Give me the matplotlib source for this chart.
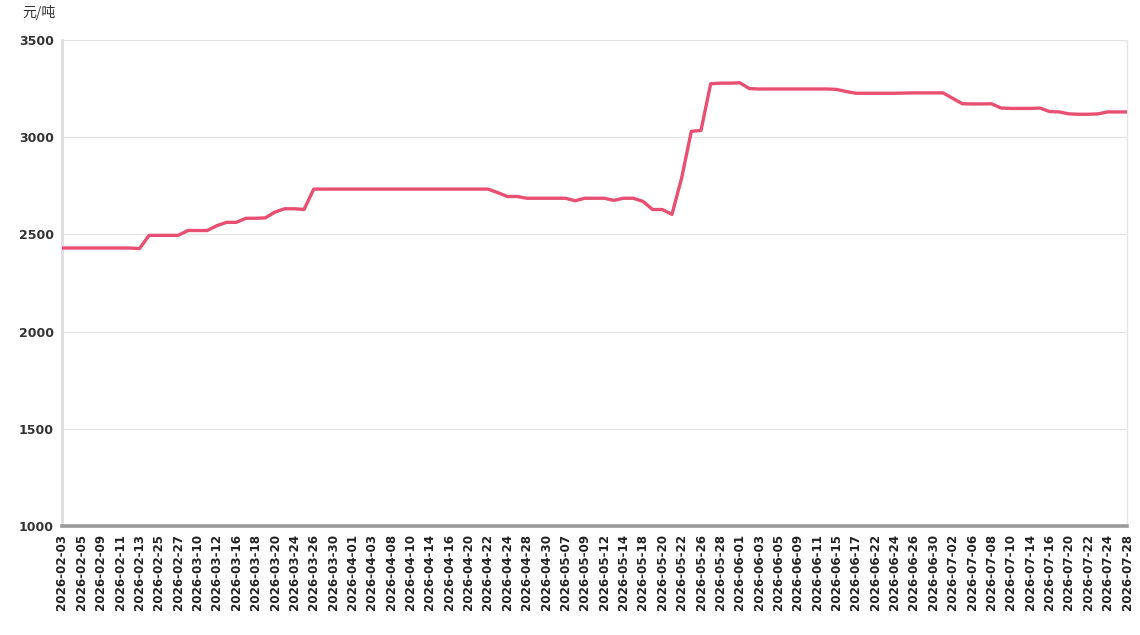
import matplotlib.pyplot as plt

# price series, one value per trading day (元/吨)
prices = [
    2430, 2430, 2430, 2430, 2430, 2430, 2430, 2430, 2427, 2495,
    2495, 2495, 2495, 2520, 2520, 2520, 2545, 2562, 2562, 2583,
    2583, 2585, 2615, 2632, 2632, 2628, 2733, 2733, 2733, 2733,
    2733, 2733, 2733, 2733, 2733, 2733, 2733, 2733, 2733, 2733,
    2733, 2733, 2733, 2733, 2733, 2715, 2695, 2695, 2686, 2686,
    2686, 2686, 2686, 2673, 2686, 2686, 2686, 2675, 2686, 2686,
    2670, 2628, 2628, 2603, 2790, 3030, 3035, 3275, 3278, 3278,
    3280, 3250, 3248, 3248, 3248, 3248, 3248, 3248, 3248, 3248,
    3246, 3235, 3226, 3226, 3226, 3226, 3226, 3227, 3228, 3228,
    3228, 3228, 3200, 3172, 3171, 3171, 3172, 3150, 3148, 3148,
    3148, 3150, 3132, 3130, 3120, 3118, 3118, 3120, 3130, 3130,
    3130,
]

# every second day is labelled
tick_labels = [
    '2026-02-03', '2026-02-05', '2026-02-09', '2026-02-11', '2026-02-13',
    '2026-02-25', '2026-02-27', '2026-03-10', '2026-03-12', '2026-03-16',
    '2026-03-18', '2026-03-20', '2026-03-24', '2026-03-26', '2026-03-30',
    '2026-04-01', '2026-04-03', '2026-04-08', '2026-04-10', '2026-04-14',
    '2026-04-16', '2026-04-20', '2026-04-22', '2026-04-24', '2026-04-28',
    '2026-04-30', '2026-05-07', '2026-05-09', '2026-05-12', '2026-05-14',
    '2026-05-18', '2026-05-20', '2026-05-22', '2026-05-26', '2026-05-28',
    '2026-06-01', '2026-06-03', '2026-06-05', '2026-06-09', '2026-06-11',
    '2026-06-15', '2026-06-17', '2026-06-22', '2026-06-24', '2026-06-26',
    '2026-06-30', '2026-07-02', '2026-07-06', '2026-07-08', '2026-07-10',
    '2026-07-14', '2026-07-16', '2026-07-20', '2026-07-22', '2026-07-24',
    '2026-07-28',
]

y_ticks = [1000, 1500, 2000, 2500, 3000, 3500]

plt.rcParams['font.family'] = ['DejaVu Sans', 'Noto Sans CJK SC']

fig = plt.figure(figsize=(11.4, 6.35), dpi=100)
ax = fig.add_axes([62 / 1140, 109 / 635, 1065 / 1140, 486 / 635])

x = list(range(len(prices)))
ax.plot(x, prices, color='#e94f71', lw=2.4, solid_joinstyle='round',
        solid_capstyle='round', zorder=3)

ax.set_xlim(0, len(prices) - 1)
ax.set_ylim(1000, 3500)
ax.set_yticks(y_ticks)
ax.set_yticklabels([str(v) for v in y_ticks], fontsize=9, fontweight='bold', color='#333333')
ax.set_xticks(x[::2])
ax.set_xticklabels(tick_labels, rotation=90, fontsize=8.6, fontweight='bold', color='#222222')
ax.tick_params(axis='both', length=0)
ax.tick_params(axis='y', pad=6)
ax.tick_params(axis='x', pad=6)

ax.grid(axis='y', color='#e3e3e3', lw=0.9)
ax.set_axisbelow(True)

ax.spines['top'].set_visible(False)
ax.spines['left'].set_color('#dddddd')
ax.spines['left'].set_linewidth(2)
ax.spines['right'].set_color('#e6e6e6')
ax.spines['right'].set_linewidth(1)
ax.spines['bottom'].set_color('#9a9a9a')
ax.spines['bottom'].set_linewidth(2.6)

fig.text(22 / 1140, 1 - 13 / 635, '元/吨', fontsize=10, color='#333333',
         family=['Noto Sans CJK SC', 'DejaVu Sans'], va='center', ha='left')

fig.savefig('out.png', dpi=100, facecolor='white')
